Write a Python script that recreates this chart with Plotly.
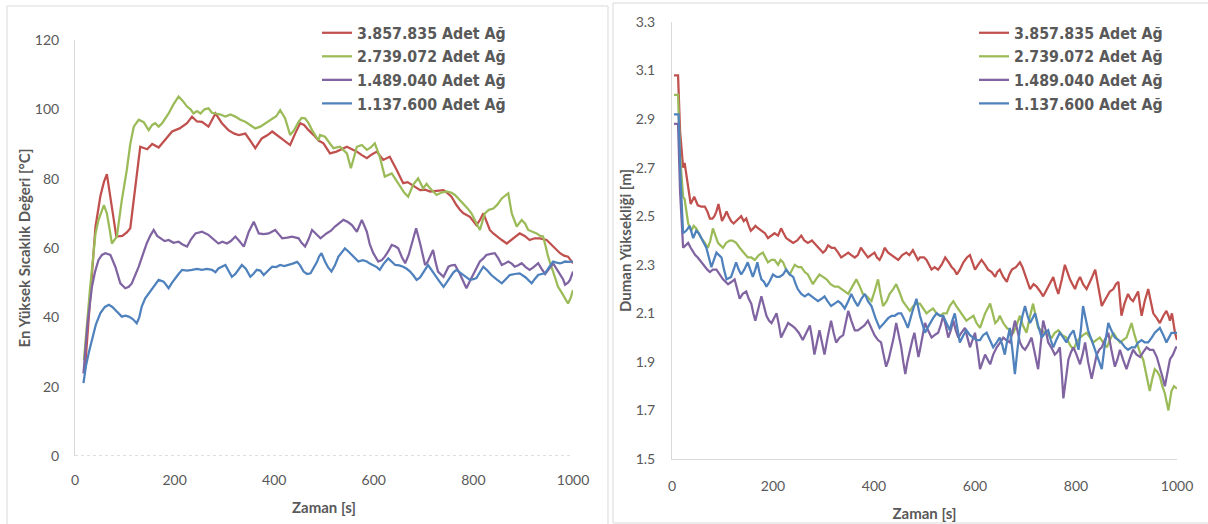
import plotly.graph_objects as go

W, H = 1208, 524

series_names = ["3.857.835 Adet Ağ", "2.739.072 Adet Ağ", "1.489.040 Adet Ağ", "1.137.600 Adet Ağ"]
colors = ["#C0504D", "#9BBB59", "#8064A2", "#4F81BD"]

# ---------------- Left chart: max temperature ----------------
temp_red_t = [20,30,41,51,58,64,72,83,95,104,111,120,131,145,155,168,180,195,210,225,235,245,255,268,282,295,308,320,329,342,352,362,375,386,396,406,416,424,432,442,452,460,469,480,489,499,512,525,535,546,556,566,576,586,596,606,619,632,646,659,668,676,685,693,703,713,726,740,748,756,766,773,780,793,806,813,820,826,833,840,847,857,867,880,893,903,913,923,933,947,960,967,974,982,990,1000]
temp_red_v = [25,45,66,75,79,81.3,74,63.3,63.5,64.5,65.7,76,89.2,88.5,90,89,91,93.6,94.5,96,97.9,96.5,96.4,95,98.8,96,94,93,92.6,93,91,88.8,91.6,92.5,93.6,92.5,91.6,90.5,89.7,93,96,95.5,94,92.5,91,90.2,87.3,87.8,88.5,89.2,88.5,87.8,86.8,85.9,87,87.8,85.4,86.3,82.5,78.7,79,78.2,77.5,76.7,76.8,76.3,76.5,76.7,75.8,74.8,72.4,71,70,69,66.6,68,70,67.5,65.2,64.2,63.3,62.3,61.3,62.8,64.2,63.5,62.3,62.8,62.8,62.3,60.4,59.5,58.5,57.8,57.5,55.6]

temp_green_t = [18,30,41,47,58,64,70,74,84,94,104,111,118,128,138,148,155,161,168,175,188,198,208,216,225,232,238,245,252,260,268,275,282,292,302,312,322,332,342,352,362,372,382,396,404,412,422,432,440,449,455,462,469,476,482,489,492,502,510,519,532,546,554,560,566,576,586,594,602,612,622,636,645,653,661,669,679,689,699,706,713,726,736,746,755,763,772,780,788,796,804,813,823,831,840,848,857,864,870,877,887,897,904,910,918,927,934,940,945,950,960,970,978,984,990,995,1000]
temp_green_v = [27.7,48,64,68,72.4,70,65,61.3,63.3,73.8,82.5,90,95,97,96.3,94,95.5,96,95,96,98.8,101.5,103.7,102.5,100.8,100,98.8,99.5,98.8,100,100.3,99,98.8,98.5,97.9,98.5,97.9,97,96.4,95.5,94.5,95,96,97.4,98,99.8,97.4,92.6,94,96.4,97.5,97.4,96,94,92.5,91,92.6,92.1,90.5,88.8,89.2,87.3,83,86,89.2,89.7,88.3,89,90.2,86.3,80.6,81.5,79.5,77.7,76,74.8,78.2,80.1,77.2,78.5,77.2,75.3,76,76.3,76,75.3,74,72.9,71.5,70,67.5,65.2,70,71,71.4,72.5,74.3,75,75.8,70,66.2,68.1,67,65.2,64.8,64.2,63.5,63.3,60.5,57.5,53.2,48.8,47,45.5,44,45.5,47.9]

temp_purple_t = [17,25,34,40,47,54,61,71,81,91,101,108,114,121,128,136,144,151,158,165,171,180,188,198,208,216,225,233,242,255,268,278,288,296,305,313,322,330,339,349,359,369,379,389,402,409,416,426,436,449,455,462,469,476,485,493,505,514,522,530,539,548,556,566,576,586,592,599,609,616,622,629,636,643,649,656,663,670,676,685,693,698,703,708,713,719,724,729,740,750,756,763,773,780,786,793,800,806,813,820,826,835,843,850,857,863,870,877,883,890,897,905,913,921,930,937,944,952,960,967,974,980,984,990,994,1000]
temp_purple_v = [23.8,38,48.8,53,56.5,58,58.5,58,54.6,49.8,48.4,48.8,49.8,52,54.6,58,61.3,63.5,65.2,63.5,62.8,62,62.3,61.5,61.8,61,60.4,62.5,64.2,64.7,63.8,62.5,61.3,61.8,61.3,62,63.3,62,60.4,64.7,67.6,64.2,64,64.2,65.2,64,62.8,63,63.3,62.8,61.5,60.4,62.5,65.2,64,62.8,64.2,65,66.2,67,68.1,67.5,66.6,64.7,68.1,64.7,61,58.5,56.1,56.5,57.5,59,60.9,60.5,59.9,57.5,55.6,58,61.3,65.7,61.3,58,55.1,56,57.5,59.4,56,53.2,51.7,54.6,55,55.1,52.5,50.5,48.4,50.5,52.5,54.5,56.1,57,58,58.3,58.5,57,55.1,55.5,56.1,55.5,54.6,55,55.6,54.5,53.7,54.5,55.6,54,52.5,54,55.6,54,52.5,51,49.4,50,50.8,53.2]

temp_blue_t = [17,22,28,34,42,51,60,68,75,81,88,94,101,108,116,124,129,134,141,148,155,161,168,178,188,195,201,208,215,225,235,245,255,265,275,282,288,295,302,308,315,322,328,335,343,352,358,365,372,379,388,396,404,412,420,429,437,446,452,459,466,473,480,486,490,495,502,508,515,522,529,535,542,549,556,563,569,578,586,592,599,606,612,620,629,636,643,651,659,666,673,680,686,693,699,704,709,716,723,731,740,746,753,760,766,773,780,786,793,800,806,813,820,828,836,846,857,865,873,883,893,905,917,923,930,937,944,952,960,967,974,979,984,990,1000]
temp_blue_v = [21,26,30,33.5,38,41.2,43,43.6,43,42.1,41,40.2,40.5,40.2,39.5,38.3,40,43.1,45.5,46.9,48,49.5,50.8,50.3,48.4,50,51.3,52.5,53.7,53.5,53.7,54,53.7,54,53.7,53,54.1,54.5,55.1,53.5,51.7,52.5,53.7,55.1,54,51.7,52.5,53.7,53.5,52.2,53.5,54.6,54.5,55.1,54.8,55.1,55.5,56,55,53.2,52.5,52.7,54.5,56,57.5,58.5,56.1,54.5,53.2,55,57.5,58.5,59.9,59,58,57,56.1,56.5,56.1,55.5,55.1,54.5,53.7,55.5,57,56,55.1,55,54.6,54,53.2,52,50.8,51.5,52.7,54,55.1,53.5,52.2,50.5,48.8,50,51.7,53,53.7,53,52.2,51.5,50.8,51,51.3,53,54.6,53.5,52.2,51,49.8,51,52.2,52.5,52.7,51.5,49.8,51,52.2,52.5,52.7,54.5,56.1,55.8,55.6,55.8,56.1,56,56.1]

# ---------------- Right chart: smoke height ----------------
smoke_red_t = [4,12,16,22,25,28,32,37,44,51,58,65,70,75,80,84,88,92,96,99,104,108,112,117,122,127,132,137,142,147,152,156,161,165,171,177,184,190,197,203,210,216,221,226,233,240,248,256,262,269,277,286,292,299,304,309,316,322,329,335,342,349,355,362,368,374,381,388,394,401,406,411,416,421,428,434,441,448,456,464,470,477,482,487,491,499,504,514,520,527,534,541,548,554,559,564,570,577,584,590,595,600,606,613,620,626,633,640,644,649,656,663,668,673,681,689,694,699,704,709,716,722,729,735,740,745,750,755,760,765,772,778,783,788,793,798,803,808,814,821,830,838,845,851,856,861,867,874,879,884,887,890,896,903,908,913,918,923,927,930,936,943,948,953,960,966,973,979,983,986,990,993,996,1000]
smoke_red_v = [3.08,3.08,2.85,2.70,2.72,2.68,2.62,2.55,2.58,2.545,2.54,2.54,2.52,2.49,2.49,2.50,2.52,2.55,2.51,2.48,2.50,2.52,2.50,2.48,2.47,2.48,2.49,2.50,2.48,2.49,2.46,2.44,2.45,2.46,2.45,2.44,2.43,2.41,2.42,2.43,2.42,2.45,2.43,2.41,2.40,2.39,2.40,2.42,2.40,2.39,2.40,2.38,2.37,2.35,2.36,2.38,2.37,2.37,2.35,2.33,2.34,2.35,2.34,2.33,2.34,2.37,2.35,2.33,2.34,2.35,2.33,2.32,2.34,2.37,2.35,2.34,2.33,2.32,2.34,2.35,2.34,2.36,2.34,2.32,2.33,2.33,2.32,2.28,2.29,2.28,2.30,2.33,2.31,2.29,2.28,2.26,2.28,2.31,2.33,2.34,2.31,2.28,2.30,2.32,2.30,2.28,2.27,2.25,2.27,2.28,2.25,2.23,2.26,2.28,2.29,2.31,2.29,2.26,2.23,2.20,2.22,2.21,2.19,2.17,2.19,2.21,2.23,2.25,2.21,2.18,2.24,2.30,2.27,2.24,2.22,2.20,2.23,2.25,2.22,2.20,2.24,2.28,2.20,2.13,2.15,2.17,2.19,2.20,2.22,2.23,2.15,2.09,2.14,2.18,2.16,2.15,2.17,2.19,2.13,2.09,2.15,2.20,2.15,2.10,2.08,2.06,2.09,2.11,2.09,2.07,2.10,2.06,2.02,1.99]

smoke_green_t = [4,12,16,22,25,28,32,38,43,48,53,58,65,71,76,81,86,91,96,101,107,114,120,127,134,141,146,150,157,164,172,180,185,190,197,203,210,215,220,226,233,238,243,250,256,263,269,274,279,285,292,299,306,314,322,329,335,342,349,357,365,372,378,386,395,401,408,413,418,425,431,438,444,450,457,464,471,478,484,491,497,504,510,517,524,531,537,544,550,557,563,570,577,583,590,597,603,610,615,620,625,630,635,640,645,649,656,663,669,676,682,689,695,702,708,715,720,725,732,739,745,752,758,765,773,781,788,795,801,808,814,821,828,834,840,847,854,861,867,874,880,887,893,900,905,910,916,923,928,933,940,946,951,956,961,966,971,976,980,983,986,989,994,1000]
smoke_green_v = [3.0,3.0,2.75,2.58,2.57,2.52,2.47,2.44,2.46,2.45,2.43,2.41,2.39,2.37,2.40,2.45,2.42,2.39,2.38,2.37,2.39,2.40,2.40,2.39,2.37,2.35,2.34,2.33,2.33,2.32,2.34,2.35,2.33,2.31,2.32,2.32,2.30,2.32,2.31,2.28,2.26,2.28,2.30,2.29,2.29,2.27,2.26,2.24,2.22,2.24,2.26,2.25,2.24,2.22,2.21,2.21,2.20,2.19,2.18,2.21,2.24,2.21,2.18,2.17,2.15,2.19,2.24,2.18,2.13,2.15,2.18,2.20,2.22,2.19,2.15,2.13,2.11,2.13,2.14,2.14,2.12,2.10,2.11,2.12,2.10,2.09,2.10,2.10,2.13,2.15,2.13,2.11,2.09,2.07,2.08,2.09,2.06,2.04,2.07,2.10,2.12,2.14,2.10,2.06,2.07,2.09,2.06,2.04,2.03,2.02,2.05,2.09,2.05,2.02,2.08,2.14,2.09,2.04,2.03,2.02,2.01,2.00,2.02,2.03,2.01,2.00,1.97,1.95,1.98,2.00,2.01,2.02,2.00,1.98,1.99,2.00,1.98,1.96,1.99,2.02,2.00,1.98,1.99,2.00,2.03,2.06,2.01,1.96,1.93,1.91,1.84,1.78,1.83,1.87,1.86,1.84,1.80,1.77,1.73,1.70,1.74,1.78,1.80,1.79]

smoke_purple_t = [4,12,16,22,27,32,37,42,46,51,58,65,70,75,81,88,94,101,106,111,118,124,129,134,140,147,152,157,161,165,171,177,182,187,192,197,202,207,212,216,223,230,237,243,251,259,266,273,278,282,287,292,297,302,308,315,320,325,332,339,344,349,355,362,368,375,381,388,395,401,408,414,419,424,429,434,439,444,449,454,458,462,466,471,476,480,484,488,491,496,501,507,514,520,527,532,537,542,547,552,557,562,567,573,580,585,590,595,600,605,610,615,620,625,630,636,643,650,656,662,669,674,679,684,689,694,699,705,712,718,725,730,735,740,745,751,758,763,768,772,775,780,785,790,795,801,808,813,818,824,831,836,841,846,851,857,864,870,877,882,887,893,900,906,913,920,927,933,940,946,953,960,966,971,976,981,986,992,998,1000]
smoke_purple_v = [2.88,2.88,2.6,2.37,2.38,2.39,2.37,2.35,2.34,2.33,2.31,2.29,2.28,2.27,2.28,2.28,2.26,2.24,2.23,2.22,2.23,2.24,2.20,2.16,2.18,2.19,2.16,2.14,2.10,2.07,2.12,2.17,2.13,2.09,2.07,2.06,2.08,2.10,2.05,2.00,2.03,2.06,2.05,2.04,2.02,1.99,2.02,2.05,1.99,1.93,1.98,2.03,1.98,1.93,2.00,2.07,2.02,1.98,2.00,2.01,2.06,2.11,2.07,2.03,2.03,2.04,2.05,2.07,2.04,2.01,1.99,1.98,1.93,1.88,1.91,1.95,2.00,2.06,2.01,1.96,1.90,1.85,1.90,1.95,1.99,2.02,1.97,1.92,1.95,2.00,2.06,2.03,2.00,2.01,2.02,2.05,2.09,2.05,2.00,2.03,2.07,2.03,2.00,2.02,2.04,2.00,1.96,1.99,2.02,1.95,1.87,1.90,1.93,1.91,1.89,1.93,1.96,1.98,2.00,1.99,1.98,2.02,2.07,2.03,1.98,1.96,1.95,1.97,2.00,1.94,1.87,1.97,2.07,2.03,1.98,1.96,1.93,1.94,1.96,1.85,1.75,1.83,1.91,1.94,1.96,1.93,1.89,1.93,1.98,1.90,1.83,1.88,1.93,1.95,1.96,1.99,2.02,1.95,1.88,1.91,1.95,1.91,1.87,1.91,1.95,1.93,1.92,1.94,1.96,1.95,1.95,1.92,1.88,1.84,1.80,1.86,1.91,1.93,1.96,1.96]

smoke_blue_t = [4,13,17,22,28,35,42,48,53,58,63,68,73,78,83,88,93,98,103,108,117,122,127,132,137,143,150,155,160,165,169,173,177,182,187,193,200,207,213,220,226,233,240,245,249,256,263,270,276,283,289,296,302,308,315,322,329,335,342,349,355,362,368,375,382,388,395,403,411,420,428,435,441,448,454,461,467,475,480,484,491,496,501,506,511,517,524,531,537,544,550,555,560,565,570,577,583,590,597,603,610,616,623,630,636,643,649,654,659,664,669,674,679,684,689,694,699,704,709,714,719,725,732,739,745,750,755,761,768,775,781,788,795,800,805,810,814,819,824,831,838,845,851,857,864,870,877,884,890,897,903,910,917,923,930,936,943,950,956,961,966,973,979,984,989,994,1000]
smoke_blue_v = [2.92,2.92,2.65,2.43,2.44,2.46,2.41,2.44,2.43,2.41,2.39,2.37,2.33,2.29,2.32,2.35,2.34,2.33,2.28,2.24,2.25,2.28,2.31,2.28,2.26,2.28,2.31,2.28,2.25,2.28,2.31,2.27,2.24,2.23,2.21,2.23,2.26,2.25,2.25,2.26,2.28,2.26,2.25,2.22,2.20,2.18,2.17,2.18,2.17,2.16,2.15,2.16,2.17,2.15,2.13,2.14,2.15,2.14,2.12,2.15,2.18,2.15,2.13,2.16,2.18,2.15,2.13,2.08,2.04,2.06,2.08,2.09,2.09,2.10,2.10,2.07,2.04,2.10,2.14,2.16,2.09,2.05,2.02,2.04,2.06,2.08,2.10,2.09,2.09,2.06,2.03,2.07,2.10,2.04,1.98,2.01,2.03,2.01,2.00,1.99,1.99,2.01,2.02,1.99,1.96,1.98,2.00,1.97,1.93,1.99,2.04,1.95,1.85,1.95,2.04,2.09,2.13,2.09,2.06,2.08,2.10,2.05,2.00,2.02,2.03,1.99,1.96,1.99,2.02,2.00,1.98,2.01,2.03,1.99,1.95,2.04,2.13,2.08,2.03,1.99,1.95,1.91,1.87,1.97,2.06,2.03,2.00,1.99,1.98,1.96,1.95,1.96,1.96,1.98,1.99,1.98,1.98,2.00,2.02,2.03,2.04,2.01,1.98,2.00,2.02,2.02,2.02]

temp_data = [(temp_red_t, temp_red_v), (temp_green_t, temp_green_v),
             (temp_purple_t, temp_purple_v), (temp_blue_t, temp_blue_v)]
smoke_data = [(smoke_red_t, smoke_red_v), (smoke_green_t, smoke_green_v),
              (smoke_purple_t, smoke_purple_v), (smoke_blue_t, smoke_blue_v)]

x_ticks = [0, 200, 400, 600, 800, 1000]
temp_ticks = [0, 20, 40, 60, 80, 100, 120]
smoke_ticks = [1.5, 1.7, 1.9, 2.1, 2.3, 2.5, 2.7, 2.9, 3.1, 3.3]

FONT = "Lato"
GREY = "#595959"
AXIS = "#D9D9D9"

def px(x):
    return x / W

def py(y):
    return 1 - y / H

fig = go.Figure()
for (t, v), name, c in zip(temp_data, series_names, colors):
    fig.add_trace(go.Scatter(x=t, y=v, mode="lines", name=name,
                             line=dict(color=c, width=2.25),
                             xaxis="x", yaxis="y", legend="legend"))
for (t, v), name, c in zip(smoke_data, series_names, colors):
    fig.add_trace(go.Scatter(x=t, y=v, mode="lines", name=name,
                             line=dict(color=c, width=2.25),
                             xaxis="x2", yaxis="y2", legend="legend2"))

tickfont = dict(family=FONT, size=14, color=GREY)
titlefont = dict(family=FONT, size=15, color=GREY, weight="bold")
legfont = dict(family="DejaVu Sans Condensed, DejaVu Sans", size=15.8, color=GREY, weight="bold")

common_x = dict(range=[0, 1000], tickvals=x_ticks, showgrid=False, zeroline=False,
                ticks="", tickfont=tickfont, ticklabelstandoff=14, automargin=False)

fig.update_layout(
    width=W, height=H, margin=dict(l=0, r=0, t=0, b=0, autoexpand=False),
    paper_bgcolor="white", plot_bgcolor="white",
    xaxis=dict(domain=[px(75), px(573)], anchor="y", showline=False,
               title=dict(text="Zaman [s]", font=titlefont), **common_x),
    yaxis=dict(domain=[py(456), py(40)], anchor="x", range=[0, 120], tickvals=temp_ticks,
               showgrid=False, zeroline=False, showline=True, linecolor=AXIS, linewidth=1,
               ticks="", tickfont=tickfont, ticklabelstandoff=12, automargin=False,
               title=dict(text="En Yüksek Sıcaklık Değeri [°C]", font=titlefont, standoff=0)),
    xaxis2=dict(domain=[px(672), px(1177)], anchor="y2", showline=True, linecolor=AXIS, linewidth=1,
                title=dict(text="Zaman [s]", font=titlefont), **common_x),
    yaxis2=dict(domain=[py(459), py(22)], anchor="x2", range=[1.5, 3.3], tickvals=smoke_ticks,
                tickformat=".1f", showgrid=False, zeroline=False, showline=True, linecolor=AXIS,
                linewidth=1, ticks="", tickfont=tickfont, ticklabelstandoff=13, automargin=False,
                title=dict(text="Duman Yüksekliği [m]", font=titlefont, standoff=0)),
    legend=dict(x=px(317), y=py(16), xanchor="left", yanchor="top", font=legfont,
                bgcolor="rgba(0,0,0,0)", tracegroupgap=0, itemwidth=30),
    legend2=dict(x=px(974), y=py(16), xanchor="left", yanchor="top", font=legfont,
                 bgcolor="rgba(0,0,0,0)", tracegroupgap=0, itemwidth=30),
    shapes=[
        dict(type="rect", xref="paper", yref="paper", x0=px(7), x1=px(608), y0=py(530), y1=py(6),
             line=dict(color=AXIS, width=1), layer="below"),
        dict(type="rect", xref="paper", yref="paper", x0=px(613), x1=px(1215), y0=py(523), y1=py(3),
             line=dict(color=AXIS, width=1), layer="below"),
        dict(type="line", xref="x", yref="y", x0=0, x1=1000, y0=0, y1=0,
             line=dict(color="#BFBFBF", width=1, dash="dot")),
    ],
)

fig.write_html("out.html", config={"displayModeBar": False},
               post_script="document.body.style.margin='0px';")
